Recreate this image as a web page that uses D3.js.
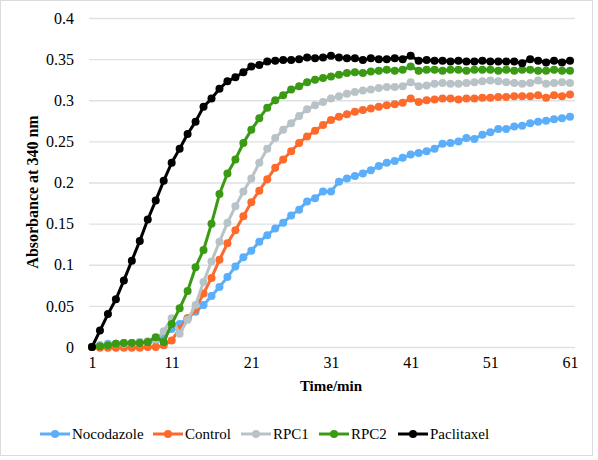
<!DOCTYPE html>
<html>
<head>
<meta charset="utf-8">
<script src="https://cdn.jsdelivr.net/npm/d3@7/dist/d3.min.js"></script>
<style>
html,body{margin:0;padding:0;background:#fff;}
svg{display:block;}
svg text{font-family:"Liberation Serif","Times New Roman",Times,"Tinos","DejaVu Serif","Noto Serif",serif !important;fill:#000;}
</style>
</head>
<body>
<svg id="chart" width="598" height="460"></svg>
<script>
const time = [1,2,3,4,5,6,7,8,9,10,11,12,13,14,15,16,17,18,19,20,21,22,23,24,25,26,27,28,29,30,31,32,33,34,35,36,37,38,39,40,41,42,43,44,45,46,47,48,49,50,51,52,53,54,55,56,57,58,59,60,61];

const nocodazole = [0,0.002,0.004,0.004,0.005,0.005,0.006,0.006,0.008,0.013,
  0.022,0.028,0.035,0.043,0.051,0.062,0.073,0.085,0.098,0.109,
  0.117,0.128,0.136,0.144,0.151,0.160,0.167,0.177,0.181,0.189,
  0.189,0.201,0.205,0.208,0.211,0.215,0.220,0.224,0.226,0.230,
  0.234,0.236,0.238,0.241,0.247,0.248,0.250,0.254,0.253,0.258,
  0.261,0.265,0.265,0.268,0.269,0.272,0.274,0.275,0.277,0.278,0.280];

const control = [0,-0.001,-0.001,-0.001,-0.001,-0.001,-0.001,0,0,0.002,
  0.008,0.022,0.035,0.046,0.065,0.084,0.106,0.126,0.142,0.159,
  0.176,0.190,0.204,0.218,0.228,0.238,0.248,0.256,0.263,0.270,
  0.276,0.280,0.283,0.286,0.288,0.290,0.292,0.294,0.295,0.297,
  0.302,0.298,0.300,0.301,0.302,0.302,0.301,0.302,0.302,0.303,
  0.303,0.304,0.304,0.305,0.305,0.305,0.306,0.303,0.306,0.305,0.307];

const rpc1 = [0,0.002,0.003,0.004,0.004,0.005,0.006,0.007,0.009,0.019,
  0.035,0.016,0.033,0.051,0.079,0.104,0.128,0.151,0.171,0.189,
  0.205,0.224,0.241,0.254,0.264,0.272,0.281,0.289,0.294,0.298,
  0.302,0.305,0.308,0.310,0.312,0.313,0.315,0.316,0.316,0.317,
  0.322,0.317,0.318,0.320,0.321,0.320,0.320,0.321,0.322,0.323,
  0.324,0.323,0.322,0.321,0.320,0.321,0.324,0.320,0.321,0.322,0.321];

const rpc2 = [0,0.001,0.002,0.004,0.005,0.005,0.005,0.006,0.012,0.006,
  0.028,0.047,0.068,0.097,0.118,0.150,0.186,0.211,0.228,0.248,
  0.264,0.278,0.291,0.300,0.306,0.313,0.317,0.322,0.325,0.327,
  0.329,0.331,0.333,0.334,0.333,0.335,0.336,0.337,0.336,0.337,
  0.341,0.336,0.337,0.337,0.336,0.337,0.337,0.336,0.337,0.337,
  0.337,0.336,0.337,0.336,0.337,0.337,0.336,0.336,0.337,0.336,0.336];

const paclitaxel = [0,0.020,0.040,0.058,0.081,0.105,0.129,0.155,0.178,0.202,
  0.224,0.241,0.259,0.274,0.292,0.302,0.314,0.323,0.328,0.334,
  0.341,0.343,0.347,0.348,0.349,0.349,0.350,0.352,0.351,0.352,
  0.354,0.352,0.351,0.351,0.349,0.351,0.350,0.350,0.351,0.350,
  0.354,0.348,0.349,0.348,0.348,0.347,0.348,0.347,0.347,0.348,
  0.347,0.347,0.347,0.347,0.345,0.350,0.348,0.346,0.348,0.346,0.348];

const seriesNames = ["Nocodazole","Control","RPC1","RPC2","Paclitaxel"];
const seriesValues = [nocodazole, control, rpc1, rpc2, paclitaxel];
const seriesColors = ["#5aaefa","#fd6a2c","#b8c3c7","#3a9a14","#000000"];

const yTicks = [0,0.05,0.1,0.15,0.2,0.25,0.3,0.35,0.4];
const yTickLabels = ["0","0.05","0.1","0.15","0.2","0.25","0.3","0.35","0.4"];
const xTicks = [1,11,21,31,41,51,61];
const xTitle = "Time/min";
const yTitle = "Absorbance at 340 nm";

const FONT = '"Liberation Serif","Times New Roman",Times,Tinos,"DejaVu Serif","Noto Serif",serif';

const svg = d3.select("#chart");
svg.append("rect").attr("x",0.5).attr("y",0.5).attr("width",592).attr("height",455)
  .attr("fill","#fff").attr("stroke","#d9dcdf").attr("stroke-width",1);

const gridLeft = 89, gridRight = 575;
const x = d3.scaleLinear().domain([1,61]).range([92,570]);
const y = d3.scaleLinear().domain([0,0.4]).range([347,18]);

// Y axis with gridlines
const yAxis = d3.axisLeft(y).tickValues(yTicks)
  .tickFormat((d,i)=>yTickLabels[i])
  .tickSize(-(gridRight-gridLeft)).tickPadding(15);
const gy = svg.append("g").attr("transform",`translate(${gridLeft},0)`).call(yAxis)
  .attr("font-family",FONT);
gy.select(".domain").remove();
gy.selectAll(".tick line").attr("stroke","#dde1e3").attr("stroke-width",1.3);
gy.selectAll(".tick text").attr("font-size",16).attr("fill","#000");

// X axis labels only
const xAxis = d3.axisBottom(x).tickValues(xTicks).tickFormat(d3.format("d")).tickSize(0).tickPadding(10);
const gx = svg.append("g").attr("transform",`translate(0,${y(0)})`).call(xAxis)
  .attr("font-family",FONT);
gx.select(".domain").remove();
gx.selectAll(".tick text").attr("font-size",16).attr("fill","#000");

// Titles
svg.append("text").attr("x",331).attr("y",391).attr("text-anchor","middle")
  .attr("font-family",FONT).attr("font-size",15).attr("font-weight","bold").text(xTitle);
svg.append("text").attr("transform","translate(38,192) rotate(-90)").attr("text-anchor","middle")
  .attr("font-family",FONT).attr("font-size",16).attr("font-weight","bold").text(yTitle);

// Series
const line = d3.line().x((d,i)=>x(time[i])).y(d=>y(d));
seriesValues.forEach((vals,si)=>{
  const g = svg.append("g");
  g.append("path").datum(vals).attr("d",line).attr("fill","none")
    .attr("stroke",seriesColors[si]).attr("stroke-width",3).attr("stroke-linejoin","round");
  g.selectAll("circle").data(vals).join("circle")
    .attr("cx",(d,i)=>x(time[i])).attr("cy",d=>y(d)).attr("r",4)
    .attr("fill",seriesColors[si]);
});

// Legend
const legendX = [40,153,241,319,398];
const legendY = 434;
seriesNames.forEach((name,i)=>{
  const g = svg.append("g").attr("transform",`translate(${legendX[i]},${legendY})`);
  g.append("line").attr("x1",0).attr("x2",30).attr("y1",0).attr("y2",0)
    .attr("stroke",seriesColors[i]).attr("stroke-width",3);
  g.append("circle").attr("cx",15).attr("cy",0).attr("r",4).attr("fill",seriesColors[i]);
  g.append("text").attr("x",32).attr("y",5).attr("font-family",FONT).attr("font-size",15).text(name);
});
</script>
</body>
</html>
